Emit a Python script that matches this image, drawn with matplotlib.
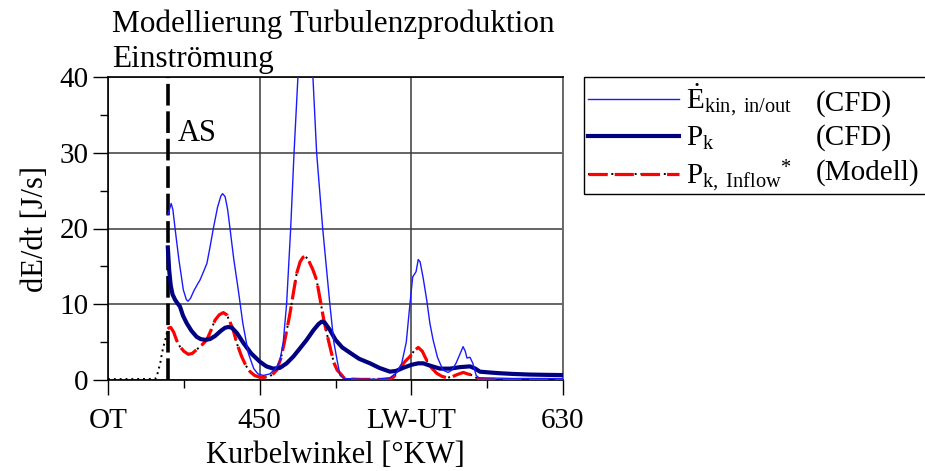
import numpy as np
import matplotlib
matplotlib.use("Agg")
import matplotlib.pyplot as plt
from matplotlib.patches import Rectangle
from matplotlib.legend_handler import HandlerTuple

plt.rcParams['font.family'] = ['Liberation Serif', 'DejaVu Serif']
plt.rcParams['mathtext.fontset'] = 'custom'
plt.rcParams['mathtext.rm'] = 'Liberation Serif'
plt.rcParams['mathtext.it'] = 'Liberation Serif:italic'
plt.rcParams['mathtext.bf'] = 'Liberation Serif:bold'

# ---------------- data (crank angle [deg], value [J/s]) ----------------
ekin_pts = [
    (395.5, 21.8), (397.5, 23.3), (398.5, 22.5), (399.8, 20.0), (402.0, 16.0),
    (404.7, 11.9), (406.5, 10.6), (407.5, 10.4), (409.0, 10.8), (411.0, 11.8),
    (413.0, 12.6), (414.6, 13.2), (416.5, 14.2), (418.7, 15.4), (420.5, 17.5),
    (422.5, 20.0), (425.0, 22.8), (427.0, 24.3), (428.0, 24.6), (429.5, 24.2),
    (431.0, 22.5), (432.4, 20.0), (434.6, 16.0), (437.3, 11.9), (440.0, 7.5),
    (443.3, 3.5), (446.5, 1.5), (449.0, 0.8), (452.2, 0.6), (456.0, 0.8),
    (459.5, 1.5), (462.0, 2.5), (464.0, 5.0), (466.0, 10.1), (468.4, 20.0),
    (470.4, 30.0), (472.7, 40.0), (475.0, 44.0), (477.3, 45.5), (479.5, 44.0),
    (481.6, 40.0), (483.8, 30.0), (487.4, 20.0), (491.7, 9.9), (494.0, 5.0),
    (496.3, 2.2), (497.7, 0.6), (500.0, 0.2), (510.0, 0.1), (520.0, 0.1),
    (527.3, 0.3), (531.5, 1.0), (534.3, 2.2), (537.0, 5.0), (539.2, 10.1),
    (540.8, 13.6), (542.8, 14.3), (544.1, 15.9), (545.2, 15.6), (547.0, 13.5),
    (549.1, 10.6), (551.0, 7.5), (552.9, 5.3), (555.5, 3.0), (558.8, 1.3),
    (561.8, 1.0), (564.0, 1.3), (566.5, 2.2), (569.0, 3.5), (570.7, 4.4),
    (572.0, 3.8), (573.0, 2.9), (574.8, 3.0), (576.5, 2.2), (578.5, 0.6),
    (580.0, 0.3), (600.0, 0.2), (630.0, 0.2),
]
pk_pts = [
    (395.5, 17.5), (396.3, 14.5), (397.2, 12.5), (398.3, 11.3), (399.8, 10.6),
    (401.0, 10.2), (402.7, 9.7), (404.5, 8.5), (406.7, 7.5), (409.5, 6.5),
    (412.6, 5.7), (415.0, 5.4), (417.6, 5.3), (420.5, 5.4), (423.5, 5.8),
    (427.0, 6.5), (429.5, 6.9), (431.4, 7.0), (433.5, 6.9), (436.5, 6.2),
    (440.3, 4.9), (445.0, 3.5), (450.2, 2.4), (454.0, 1.8), (458.1, 1.5),
    (462.0, 1.6), (466.0, 2.2), (470.0, 3.1), (474.0, 4.2), (477.9, 5.3),
    (482.0, 6.6), (485.0, 7.4), (486.8, 7.7), (488.5, 7.6), (491.7, 6.6),
    (495.0, 5.3), (499.0, 4.3), (503.6, 3.6), (509.0, 2.8), (515.5, 2.2),
    (521.0, 1.6), (527.3, 1.1), (531.0, 1.2), (535.1, 1.6), (540.0, 2.0),
    (544.0, 2.2), (547.1, 2.2), (551.0, 1.9), (557.0, 1.5), (563.0, 1.5),
    (569.0, 1.7), (574.8, 1.8), (578.0, 1.5), (580.7, 1.1), (586.0, 1.0),
    (592.0, 0.9), (600.3, 0.8), (610.0, 0.72), (620.0, 0.68), (630.0, 0.65),
]
model_pts = [
    (360.0, 0.12), (375.0, 0.12), (388.0, 0.15), (389.0, 0.5), (390.0, 1.4),
    (391.0, 2.2), (392.0, 3.5), (393.0, 4.5), (394.0, 5.3), (395.5, 6.8),
    (397.2, 6.95), (399.0, 6.3), (400.8, 5.2), (402.7, 4.4), (405.0, 3.8),
    (407.6, 3.4), (410.0, 3.5), (412.0, 3.9), (414.6, 4.4), (416.5, 4.8),
    (418.6, 5.3), (421.0, 6.5), (423.5, 7.9), (426.0, 8.6), (428.4, 8.9),
    (430.5, 8.6), (432.5, 7.6), (434.3, 6.6), (436.5, 4.8), (439.3, 3.1),
    (441.8, 1.9), (444.3, 1.1), (447.0, 0.6), (449.5, 0.4), (452.2, 0.35),
    (455.0, 0.4), (457.5, 0.7), (460.1, 1.3), (462.5, 2.8), (464.5, 4.8),
    (466.2, 6.7), (468.0, 8.8), (470.0, 11.5), (472.0, 14.1), (474.0, 15.6),
    (475.7, 16.2), (477.3, 16.3), (479.0, 15.8), (481.5, 14.6), (483.8, 13.2),
    (486.0, 10.5), (488.0, 8.0), (490.0, 6.0), (491.7, 4.4), (494.0, 2.3),
    (496.0, 1.3), (497.7, 0.9), (500.6, 0.15), (510.0, 0.08), (520.0, 0.08),
    (527.3, 0.1), (529.5, 0.4), (531.3, 0.9), (534.0, 1.8), (536.5, 2.5),
    (539.2, 3.1), (541.5, 3.8), (544.1, 4.3), (546.5, 3.8), (549.1, 2.6),
    (552.0, 1.6), (555.0, 0.9), (558.0, 0.5), (560.9, 0.3), (564.0, 0.4),
    (567.0, 0.7), (570.8, 1.0), (573.5, 0.8), (576.6, 0.6), (578.5, 0.3),
    (580.7, 0.05), (590.0, 0.05), (610.0, 0.05), (630.0, 0.05),
]
as_angle = 395.5
x_ticks = [360, 450, 540, 630]
x_tick_labels = ['OT', '450', 'LW-UT', '630']
x_minor = [405, 495, 585]
y_ticks = [0, 10, 20, 30, 40]
y_minor = [5, 15, 25, 35]

ekin_x, ekin_y = map(np.array, zip(*ekin_pts))
pk_x, pk_y = map(np.array, zip(*pk_pts))
model_x, model_y = map(np.array, zip(*model_pts))
after_as = model_x >= as_angle

# ---------------- figure ----------------
W, H = 925, 471
fig = plt.figure(figsize=(W / 100, H / 100), dpi=100)
ax = fig.add_axes([108 / W, 1 - 380 / H, 455 / W, 303 / H])

ax.set_xlim(360, 630)
ax.set_ylim(0, 40)

ax.grid(True, which='major', color='#3a3a3a', lw=1.1)
ax.set_axisbelow(True)

ax.axvline(as_angle, color='black', lw=2.6, dashes=(6, 1.6), zorder=3)

l_model_dot, = ax.plot(model_x, model_y, color='black', lw=1.4,
                       linestyle=(0, (1, 2)), zorder=4)
l_model, = ax.plot(model_x[after_as], model_y[after_as], color='#ff0000', lw=2.3,
                   dashes=(6, 2.2), zorder=5)
l_pk, = ax.plot(pk_x, pk_y, color='#000080', lw=3.0, zorder=6)
l_ekin, = ax.plot(ekin_x, ekin_y, color='#1a1aff', lw=1.0, zorder=7)

ax.text(401.1, 31.55, 'AS', fontsize=22, va='baseline', ha='left')

ax.set_xticks(x_ticks)
ax.set_xticklabels(x_tick_labels)
ax.set_xticks(x_minor, minor=True)
ax.set_yticks(y_ticks)
ax.set_yticks(y_minor, minor=True)
ax.tick_params(axis='both', which='major', direction='out', length=11,
               width=1.0, labelsize=21, color='black')
ax.tick_params(axis='both', which='minor', direction='out', length=6,
               width=1.0, color='black')
ax.tick_params(axis='x', which='major', pad=9)
ax.tick_params(axis='y', which='major', pad=3)

for s in ['left', 'bottom', 'top']:
    ax.spines[s].set_color('black')
    ax.spines[s].set_linewidth(1.2)
ax.spines['right'].set_color('#6a6a6a')
ax.spines['right'].set_linewidth(1.4)

ax.set_xlabel('Kurbelwinkel [°KW]', fontsize=22, labelpad=5)
ax.set_ylabel('dE/dt [J/s]', fontsize=22, labelpad=7)

fig.text(112 / W, 1 - 32 / H, 'Modellierung Turbulenzproduktion',
         fontsize=22.5, va='baseline', ha='left')
fig.text(112 / W, 1 - 67 / H, 'Einströmung', fontsize=22.5, va='baseline', ha='left')

# legend
handles = [l_ekin, l_pk, (l_model_dot, l_model)]
labels = [r'$\dot{\mathrm{E}}_{\mathrm{kin,\ in/out}}$',
          r'$\mathrm{P}_{\mathrm{k}}$',
          r'${\mathrm{P}_{\mathrm{k,\ Inflow}}}^{*}$']
leg = ax.legend(handles, labels, loc='upper left',
                bbox_to_anchor=(584 / W, 1 - 77 / H), bbox_transform=fig.transFigure,
                frameon=False, fontsize=21, handlelength=3.1, handletextpad=0.25,
                borderpad=0.15, borderaxespad=0, labelspacing=0.22,
                handler_map={tuple: HandlerTuple(ndivide=1, pad=0)})
fig.patches.append(Rectangle((584 / W, 1 - 194 / H), 400 / W, 117 / H,
                             transform=fig.transFigure, fill=False,
                             edgecolor='black', lw=1.0))
for lab, yb in zip(['(CFD)', '(CFD)', '(Modell)'], [111, 145, 180]):
    fig.text(816 / W, 1 - yb / H, lab, fontsize=21, va='baseline', ha='left')

fig.savefig('out.png', dpi=100)
